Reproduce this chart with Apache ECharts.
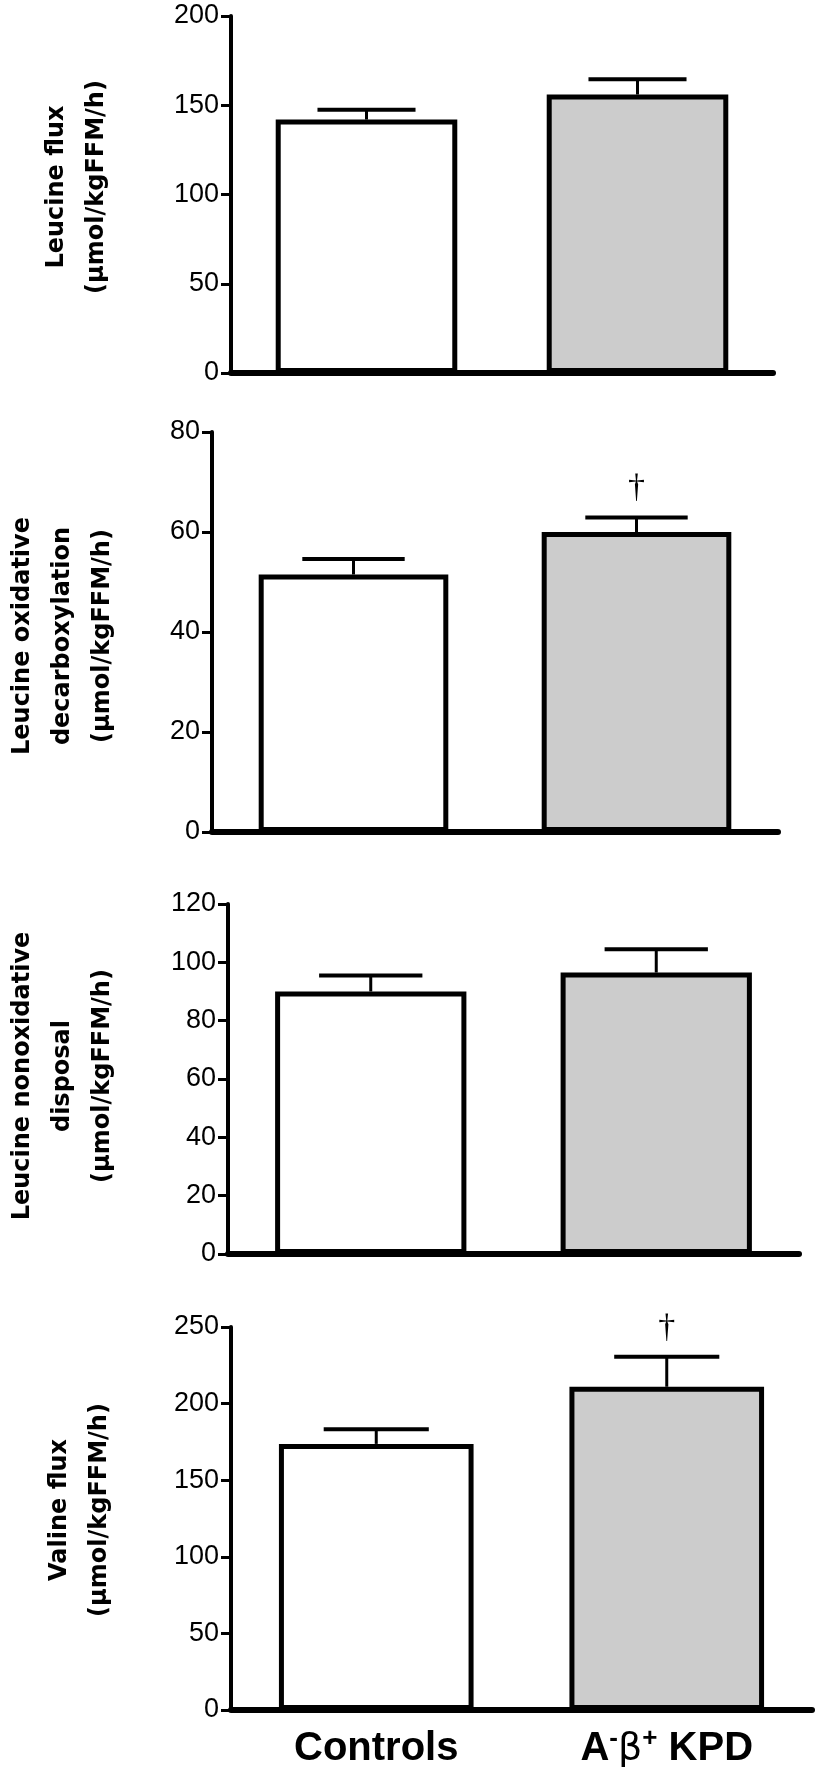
<!DOCTYPE html>
<html>
<head>
<meta charset="utf-8">
<script src="https://cdn.jsdelivr.net/npm/echarts@6/dist/echarts.min.js"></script>
<style>
  html, body { margin: 0; padding: 0; background: #ffffff; }
  #chart { width: 815px; height: 1776px; }
</style>
</head>
<body>
<div id="chart"></div>
<script>
// ---- Data ----
const categories = ['Controls', 'A⁻β⁺ KPD'];

const panelTitles = [
  'Leucine flux\n(µmol/kgFFM/h)',
  'Leucine oxidative\ndecarboxylation\n(µmol/kgFFM/h)',
  'Leucine nonoxidative\ndisposal\n(µmol/kgFFM/h)',
  'Valine flux\n(µmol/kgFFM/h)'
];

const leucineFlux = [142, 156];
const leucineFluxErr = [5.5, 8.5];
const leucineOxid = [51.5, 60.0];
const leucineOxidErr = [3.1, 2.9];
const leucineNonox = [90.0, 96.5];
const leucineNonoxErr = [5.5, 8.0];
const valineFlux = [173.7, 211.0];
const valineFluxErr = [9.6, 19.5];

const sigLeucineFlux = ['', ''];
const sigLeucineOxid = ['', '†'];
const sigLeucineNonox = ['', ''];
const sigValineFlux = ['', '†'];

const yMaxes = [200, 80, 120, 250];
const yIntervals = [50, 20, 20, 50];

const barColors = ['#ffffff', '#cccccc'];

// ---- Layout (pixels) ----
const grids = [
  { left: 231, right: 42, top: 16, height: 357 },
  { left: 212, right: 37, top: 432, height: 400 },
  { left: 228, right: 16, top: 904, height: 350 },
  { left: 231, right: 3, top: 1327, height: 383 }
];
const titlePos = [
  [77, 187], [63, 636], [63, 1076], [80, 1510]
];

const values = [leucineFlux, leucineOxid, leucineNonox, valineFlux];
const errs = [leucineFluxErr, leucineOxidErr, leucineNonoxErr, valineFluxErr];
const sigs = [sigLeucineFlux, sigLeucineOxid, sigLeucineNonox, sigValineFlux];

const chart = echarts.init(document.getElementById('chart'), null, { renderer: 'canvas' });

const xAxes = [], yAxes = [], series = [], graphics = [];

grids.forEach((g, i) => {
  xAxes.push({
    gridIndex: i,
    type: 'category',
    data: categories,
    axisLine: { show: true, lineStyle: { color: '#000', width: 6 } },
    axisTick: { show: false },
    axisLabel: {
      show: i === 3,
      margin: 16,
      formatter: function (v) {
        if (v === categories[1]) return '{n|A}{sup|-}{b|β}{sup|+}{n| KPD}';
        return '{n|' + v + '}';
      },
      rich: {
        n: { fontFamily: 'Liberation Sans, Arial, sans-serif', fontWeight: 'bold', fontSize: 40, color: '#000', lineHeight: 46 },
        b: { fontFamily: 'DejaVu Sans, sans-serif', fontWeight: 'normal', fontSize: 38, color: '#000', lineHeight: 46 },
        sup: { fontFamily: 'Liberation Sans, Arial, sans-serif', fontWeight: 'bold', fontSize: 26, color: '#000', verticalAlign: 'top', lineHeight: 46, padding: [0, 0, 12, 0] }
      }
    }
  });
  yAxes.push({
    gridIndex: i,
    type: 'value',
    min: 0,
    max: yMaxes[i],
    interval: yIntervals[i],
    axisLine: { show: true, lineStyle: { color: '#000', width: 4 } },
    axisTick: { show: true, length: 10, lineStyle: { color: '#000', width: 3 } },
    splitLine: { show: false },
    axisLabel: {
      color: '#000',
      fontFamily: 'Liberation Sans, Arial, sans-serif',
      fontSize: 27,
      margin: 12
    }
  });
  series.push({
    type: 'bar',
    xAxisIndex: i,
    yAxisIndex: i,
    barWidth: '67%',
    data: values[i].map((v, k) => ({
      value: v,
      itemStyle: { color: barColors[k], borderColor: '#000', borderWidth: 5 }
    })),
    z: 3
  });
  const errData = values[i].map((v, k) => [k, v, errs[i][k], sigs[i][k]]);
  series.push({
    type: 'custom',
    xAxisIndex: i,
    yAxisIndex: i,
    data: errData,
    z: 2,
    renderItem: function (params, api) {
      const idx = api.value(0);
      const base = api.coord([idx, api.value(1)]);
      const top = api.coord([idx, api.value(1) + api.value(2)]);
      const band = api.size([1, 0])[0];
      const capHalf = band * 0.67 * 0.27;
      const children = [
        { type: 'line', shape: { x1: base[0], y1: base[1], x2: top[0], y2: top[1] },
          style: { stroke: '#000', lineWidth: 3 } },
        { type: 'line', shape: { x1: top[0] - capHalf, y1: top[1], x2: top[0] + capHalf, y2: top[1] },
          style: { stroke: '#000', lineWidth: 4 } }
      ];
      const s = errData[params.dataIndex][3];
      if (s) {
        children.push({
          type: 'text',
          x: top[0], y: top[1] - 29,
          style: { text: s, fill: '#000', font: '34px "Liberation Serif", serif', align: 'center', verticalAlign: 'middle' }
        });
      }
      return { type: 'group', children: children };
    }
  });
  graphics.push({
    type: 'text',
    x: titlePos[i][0],
    y: titlePos[i][1],
    rotation: Math.PI / 2,
    style: {
      text: panelTitles[i],
      fill: '#000',
      font: 'bold 24px "DejaVu Sans", sans-serif',
      lineHeight: 40,
      align: 'center',
      verticalAlign: 'middle'
    }
  });
});

chart.setOption({
  animation: false,
  backgroundColor: '#ffffff',
  grid: grids,
  xAxis: xAxes,
  yAxis: yAxes,
  series: series,
  graphic: graphics
});
</script>
</body>
</html>
